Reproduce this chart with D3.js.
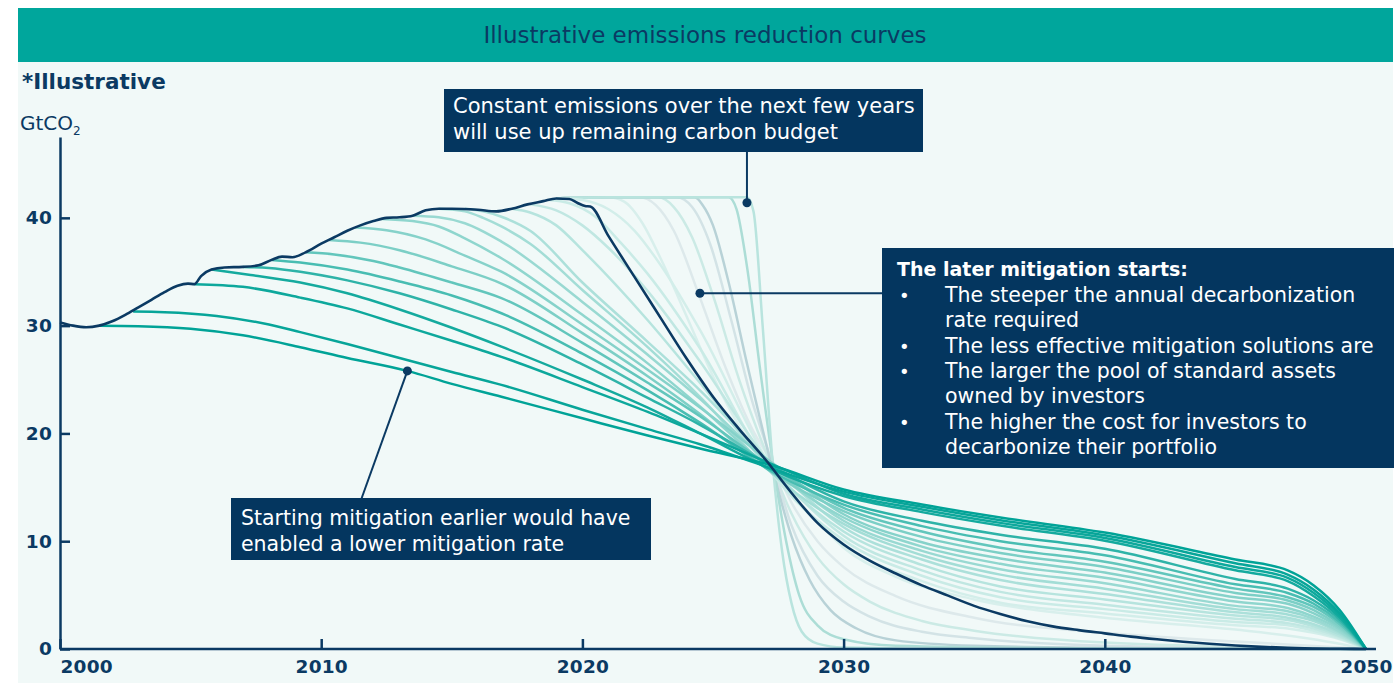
<!DOCTYPE html>
<html>
<head>
<meta charset="utf-8">
<script src="https://cdn.jsdelivr.net/npm/d3@7"></script>
<style>
  body { margin: 0; background: #fff; }
  svg { display: block; font-family: 'DejaVu Sans', sans-serif; }
  .axis path, .axis line { stroke: #0b3a63; stroke-width: 2.5; }
</style>
</head>
<body>
<div id="chart"></div>
<script>
// historical emissions, GtCO2
const histYears = [2000, 2000.5, 2001, 2001.5, 2002, 2002.5, 2003, 2003.5, 2004, 2004.5, 2004.9, 2005.15, 2005.4, 2005.8, 2006.3, 2007, 2007.6, 2008.1, 2008.5, 2008.9, 2009.4, 2010, 2010.5, 2011, 2011.5, 2012, 2012.5, 2013, 2013.5, 2014, 2014.5, 2015, 2016, 2016.7, 2017.3, 2017.9, 2018.5, 2019, 2019.5, 2019.8, 2020.1, 2020.3]
const histValues = [30.3, 30.0, 29.85, 30.0, 30.4, 31.0, 31.7, 32.4, 33.1, 33.7, 33.9, 33.85, 34.6, 35.2, 35.4, 35.45, 35.6, 36.1, 36.4, 36.35, 36.8, 37.6, 38.2, 38.8, 39.3, 39.7, 40.0, 40.05, 40.2, 40.7, 40.85, 40.85, 40.75, 40.6, 40.85, 41.25, 41.55, 41.8, 41.75, 41.4, 41.1, 41.05]

// pathway if mitigation starts now
const nowYears = [2021, 2022, 2023, 2024, 2025, 2026, 2027, 2028, 2029, 2030, 2031, 2032, 2033, 2034, 2035, 2036, 2037, 2038, 2039, 2040, 2041, 2042, 2043, 2044, 2045, 2046, 2047, 2048, 2049, 2050]
const nowValues = [38.3, 34.5, 30.7, 26.9, 23.4, 20.4, 17.6, 14.5, 11.7, 9.7, 8.2, 7.0, 5.9, 4.95, 4.0, 3.25, 2.6, 2.1, 1.75, 1.45, 1.15, 0.9, 0.68, 0.48, 0.32, 0.2, 0.11, 0.05, 0.02, 0]

// pathways if mitigation had started earlier, [year, GtCO2]
const early01 = [[2001.5, 30.0], [2003, 29.95], [2005, 29.7], [2007, 29.1], [2009.2, 28.0], [2011, 27.0], [2013.3, 25.8], [2015, 24.6], [2016.9, 23.4], [2020, 21.4], [2022.5, 19.8], [2024.5, 18.6], [2027.3, 17.0], [2030, 14.8], [2033, 13.4], [2036, 12.2], [2040, 10.8], [2045, 8.3], [2047, 7.3], [2048, 5.9], [2049, 3.6], [2050, 0]]
const early02 = [[2002.8, 31.3], [2004, 31.25], [2006, 30.9], [2008, 30.1], [2009.2, 29.4], [2011, 28.3], [2013, 27.0], [2015, 25.7], [2016.9, 24.5], [2020, 22.2], [2022.5, 20.4], [2024.5, 19.0], [2027.3, 16.7], [2030, 14.6], [2033, 13.2], [2036, 11.95], [2040, 10.55], [2045, 7.95], [2047, 6.9], [2048, 5.5], [2049, 3.3], [2050, 0]]
const early03 = [[2005.15, 33.85], [2007, 33.6], [2009.2, 32.6], [2011, 31.6], [2013, 30.1], [2015, 28.6], [2016.9, 27.1], [2020, 24.3], [2022.5, 22.0], [2024.5, 20.0], [2027.3, 17.1], [2030, 14.4], [2033, 12.95], [2036, 11.7], [2040, 10.3], [2045, 7.6], [2047, 6.6], [2048, 5.2], [2049, 3.1], [2050, 0]]
const early04 = [[2005.8, 35.2], [2007.3, 34.7], [2009.2, 34.0], [2011, 33.0], [2013, 31.5], [2015, 29.8], [2016.9, 28.05], [2020, 25.0], [2022.5, 22.4], [2024.5, 20.0], [2027.3, 16.6], [2030, 14.2], [2033, 12.7], [2036, 11.45], [2040, 10.05], [2045, 7.3], [2047, 6.3], [2048, 4.9], [2049, 2.9], [2050, 0]]
const early05 = [[2007, 35.45], [2008, 35.35], [2009.2, 35.0], [2011, 34.2], [2013, 33.0], [2015, 31.5], [2016.9, 29.9], [2020, 26.4], [2022.5, 23.3], [2024.5, 20.8], [2027.3, 16.9], [2030, 13.7], [2033, 11.9], [2036, 10.6], [2040, 9.3], [2045, 6.5], [2047, 5.6], [2048, 4.5], [2049, 2.7], [2050, 0]]
const early06 = [[2008.1, 36.1], [2009.2, 35.85], [2011, 35.2], [2013, 34.1], [2015, 32.8], [2016.9, 31.15], [2020, 27.4], [2022.5, 24.0], [2024.5, 21.0], [2027.3, 16.4], [2030, 13.4], [2033, 11.4], [2036, 10.0], [2040, 8.7], [2045, 6.0], [2047, 5.2], [2048, 4.2], [2049, 2.5], [2050, 0]]
const early07 = [[2009.4, 36.8], [2010.5, 36.6], [2012, 36.0], [2013, 35.4], [2015, 34.0], [2016.9, 32.55], [2020, 28.4], [2022.5, 24.7], [2024.5, 21.6], [2027.3, 16.8], [2030, 13.1], [2033, 10.9], [2036, 9.4], [2040, 8.1], [2045, 5.6], [2047, 4.8], [2048, 3.9], [2049, 2.3], [2050, 0]]
const early08 = [[2010.3, 37.95], [2011.5, 37.7], [2013, 37.0], [2015, 35.5], [2016.9, 33.9], [2020, 29.3], [2022.5, 25.3], [2024.5, 21.8], [2027.3, 16.3], [2030, 12.8], [2033, 10.4], [2036, 8.9], [2040, 7.6], [2045, 5.2], [2047, 4.5], [2048, 3.6], [2049, 2.1], [2050, 0]]
const early09 = [[2011.3, 39.1], [2012.5, 38.85], [2014, 38.0], [2015.5, 36.5], [2016.9, 35.0], [2020, 30.1], [2022.5, 25.9], [2024.5, 22.4], [2027.3, 17.2], [2030, 12.5], [2033, 9.9], [2036, 8.4], [2040, 7.1], [2045, 4.8], [2047, 4.2], [2048, 3.3], [2049, 1.95], [2050, 0]]
const early10 = [[2012.3, 39.9], [2013.5, 39.7], [2014.5, 39.2], [2015.5, 38.1], [2016.9, 36.25], [2020, 31.0], [2022.5, 26.5], [2024.5, 22.5], [2027.3, 16.5], [2030, 12.2], [2033, 9.5], [2036, 7.9], [2040, 6.6], [2045, 4.4], [2047, 3.8], [2048, 3.0], [2049, 1.8], [2050, 0]]
const early11 = [[2013.5, 40.2], [2014.5, 40.05], [2015.5, 39.5], [2016.9, 37.8], [2020, 32.2], [2022.5, 27.3], [2024.5, 23.2], [2027.3, 16.9], [2030, 11.9], [2033, 9.1], [2036, 7.4], [2040, 6.1], [2045, 4.0], [2047, 3.5], [2048, 2.8], [2049, 1.6], [2050, 0]]
const early12 = [[2014.5, 40.85], [2015.5, 40.6], [2016.2, 40.0], [2016.9, 39.2], [2018, 37.6], [2020, 33.3], [2022.5, 28.0], [2024.5, 23.4], [2027.3, 16.2], [2030, 11.6], [2033, 8.7], [2036, 6.9], [2040, 5.6], [2045, 3.7], [2047, 3.2], [2048, 2.6], [2049, 1.5], [2050, 0]]
const early13 = [[2015.5, 40.85], [2016.2, 40.6], [2016.9, 40.1], [2018, 38.8], [2020, 34.0], [2022.5, 28.5], [2024.5, 24.0], [2027.3, 17.0], [2030, 11.3], [2033, 8.3], [2036, 6.4], [2040, 5.1], [2045, 3.4], [2047, 2.9], [2048, 2.3], [2049, 1.35], [2050, 0]]
const early14 = [[2017.3, 40.85], [2018, 40.5], [2019, 39.3], [2020, 37.0], [2022.5, 30.5], [2024.5, 24.7], [2027.3, 16.4], [2030, 10.9], [2033, 7.8], [2036, 5.8], [2040, 4.6], [2045, 3.1], [2047, 2.7], [2048, 2.1], [2049, 1.2], [2050, 0]]
const early15 = [[2018, 41.25], [2019, 40.7], [2020, 39.3], [2021, 37.2], [2022.5, 33.2], [2024.5, 26.7], [2027.3, 16.8], [2030, 10.5], [2033, 7.3], [2036, 5.3], [2040, 4.1], [2045, 2.8], [2047, 2.4], [2048, 1.9], [2049, 1.1], [2050, 0]]
const early16 = [[2018.7, 41.65], [2019.5, 41.35], [2020.5, 40.1], [2021.5, 37.6], [2022.5, 34.8], [2024.5, 27.9], [2027.3, 16.2], [2030, 10.1], [2033, 6.8], [2036, 4.8], [2040, 3.7], [2045, 2.5], [2047, 2.2], [2048, 1.7], [2049, 1.0], [2050, 0]]
const early17 = [[2019.2, 41.82], [2020, 41.65], [2021, 40.8], [2022, 38.8], [2023, 35.6], [2024.5, 29.6], [2027.3, 16.6], [2030, 9.7], [2033, 6.3], [2036, 4.3], [2040, 3.3], [2045, 2.2], [2047, 1.9], [2048, 1.5], [2049, 0.9], [2050, 0]]
const earlyCurves = [early01, early02, early03, early04, early05, early06, early07, early08, early09, early10, early11, early12, early13, early14, early15, early16, early17]

// pathways with constant emissions before a later start, [year, GtCO2]
const late1 = [[2019, 41.8], [2020, 41.9], [2021, 41.9], [2021.6, 41.5], [2022.3, 39.5], [2023, 36.2], [2024, 30.8], [2025, 25.3], [2026, 20.7], [2027.3, 16.5], [2028, 14.4], [2029, 11.8], [2030, 9.4], [2032, 6.7], [2035, 4.6], [2040, 2.9], [2045, 1.8], [2048, 0.9], [2050, 0]]
const late2 = [[2019, 41.8], [2021, 41.9], [2022.2, 41.9], [2022.8, 41.2], [2023.5, 38.8], [2024.5, 32.6], [2025.5, 26.0], [2026.5, 20.4], [2027.3, 17.1], [2028, 13.6], [2029, 10.0], [2030, 7.6], [2032, 4.9], [2035, 2.9], [2040, 1.5], [2045, 0.7], [2050, 0]]
const late3 = [[2019, 41.8], [2021, 41.9], [2022.9, 41.9], [2023.5, 41.0], [2024.2, 38.2], [2025, 32.8], [2026, 25.0], [2027.3, 16.6], [2028, 12.6], [2029, 8.5], [2030, 6.0], [2031, 4.4], [2033, 2.6], [2035, 1.7], [2040, 0.6], [2050, 0]]
const late4 = [[2019, 41.8], [2021, 41.9], [2023.6, 41.9], [2024.2, 41.0], [2024.9, 37.5], [2025.7, 30.5], [2026.5, 23.0], [2027.3, 17.0], [2028, 11.5], [2029, 6.8], [2030, 4.4], [2031, 3.0], [2033, 1.6], [2035, 1.0], [2040, 0.3], [2050, 0]]
const late5 = [[2019, 41.8], [2021, 41.9], [2024.3, 41.9], [2024.6, 41.2], [2025.0, 39.3], [2025.6, 34.0], [2026.3, 26.5], [2027.3, 16.5], [2028, 10.5], [2028.7, 6.4], [2029.5, 3.6], [2030.5, 1.9], [2032, 0.8], [2035, 0.3], [2040, 0.1], [2050, 0]]
const late6 = [[2019, 41.8], [2021, 41.9], [2025.6, 41.9], [2025.9, 40.8], [2026.3, 35.5], [2026.8, 26.0], [2027.3, 17.2], [2027.8, 10.0], [2028.3, 5.0], [2029, 2.2], [2030, 0.9], [2032, 0.3], [2040, 0.05], [2050, 0]]
const late7 = [[2019, 41.8], [2021, 41.9], [2026.3, 41.9], [2026.55, 40.6], [2026.9, 30.0], [2027.3, 16.8], [2027.65, 9.0], [2028.0, 4.3], [2028.4, 1.6], [2029, 0.5], [2030, 0.15], [2035, 0.03], [2050, 0]]
const lateCurves = [late1, late2, late3, late4, late5, late6, late7]

// annotation anchors [year, GtCO2]
const anchorConstant = [2026.3, 41.4]
const anchorLater = [2024.5, 33.0]
const anchorEarlier = early01[6]

const yTicks = [0, 10, 20, 30, 40]
const xTicks = [2000, 2010, 2020, 2030, 2040, 2050]

const chartTitle = 'Illustrative emissions reduction curves'
const noteConstant = ['Constant emissions over the next few years', 'will use up remaining carbon budget']
const noteLaterTitle = 'The later mitigation starts:'
const noteLater = [
  ['The steeper the annual decarbonization', 'rate required'],
  ['The less effective mitigation solutions are'],
  ['The larger the pool of standard assets', 'owned by investors'],
  ['The higher the cost for investors to', 'decarbonize their portfolio']
]
const noteEarlier = ['Starting mitigation earlier would have', 'enabled a lower mitigation rate']

const navy = '#0b3a63'
const boxFill = '#04365f'
const lateColors = ['#d8efec', '#dde9eb', '#cbeae5', '#d3e3e6', '#b8d2d7', '#acddd6', '#b9e4de']

const width = 1396
const height = 683

const svg = d3.select('#chart').append('svg')
  .attr('width', width)
  .attr('height', height)

// panel and header band
svg.append('rect').attr('x', 18).attr('y', 8).attr('width', 1375).attr('height', 675).attr('fill', '#f1f9f8')
svg.append('rect').attr('x', 18).attr('y', 8).attr('width', 1375).attr('height', 54).attr('fill', '#00a69c')
svg.append('text')
  .attr('x', 705).attr('y', 43)
  .attr('text-anchor', 'middle')
  .attr('fill', navy)
  .style('font-size', '23px')
  .text(chartTitle)

svg.append('text')
  .attr('x', 22).attr('y', 89)
  .attr('fill', navy)
  .style('font-size', '21.5px')
  .style('font-weight', 'bold')
  .text('*Illustrative')

const unit = svg.append('text')
  .attr('x', 20).attr('y', 130)
  .attr('fill', navy)
  .style('font-size', '20px')
unit.append('tspan').text('GtCO')
unit.append('tspan').attr('dy', 5).style('font-size', '12px').text('2')

// scales
const x = d3.scaleLinear().domain([2000, 2050]).range([60, 1366])
const y = d3.scaleLinear().domain([0, 47.5]).range([649, 137])

const line = d3.line()
  .x(d => x(d[0]))
  .y(d => y(d[1]))
  .curve(d3.curveMonotoneX)

// later-start curves (faint), then earlier-start curves from light to dark
svg.append('g').selectAll('path')
  .data(lateCurves)
  .enter()
  .append('path')
  .attr('d', line)
  .attr('fill', 'none')
  .attr('stroke', (d, i) => lateColors[i])
  .attr('stroke-width', 2.5)

const tealScale = d3.scaleLinear()
  .domain([0, 3, 7, 16])
  .range(['#00a397', '#14aa9e', '#7ccfc6', '#d3eeea'])

svg.append('g').selectAll('path')
  .data(earlyCurves.map((c, i) => ({ c, i })).reverse())
  .enter()
  .append('path')
  .attr('d', d => line(d.c))
  .attr('fill', 'none')
  .attr('stroke', d => tealScale(d.i))
  .attr('stroke-width', 2.5)

// historical + start-now pathway
const navyPoints = histYears.map((yr, i) => [yr, histValues[i]])
  .concat(nowYears.map((yr, i) => [yr, nowValues[i]]))
svg.append('path')
  .datum(navyPoints)
  .attr('d', line)
  .attr('fill', 'none')
  .attr('stroke', navy)
  .attr('stroke-width', 2.6)

// axes
svg.append('g')
  .attr('class', 'y axis')
  .attr('transform', 'translate(' + x(2000) + ',0)')
  .call(d3.axisLeft(y).tickValues(yTicks).tickSize(-10).tickSizeOuter(0).tickPadding(8))

const xAxis = svg.append('g')
  .attr('class', 'x axis')
  .attr('transform', 'translate(0,' + y(0) + ')')
  .call(d3.axisBottom(x).tickValues(xTicks).tickFormat(d3.format('d')).tickSize(-10).tickSizeOuter(0).tickPadding(11))
xAxis.select('.domain').attr('d', 'M' + x(2000) + ',0H' + (x(2050) + 10))
xAxis.selectAll('.tick').filter(d => d === 2000).select('text').attr('text-anchor', 'start')
xAxis.selectAll('.tick').filter(d => d === 2050).select('line').remove()

svg.selectAll('.axis text')
  .attr('fill', navy)
  .style('font-family', "'DejaVu Sans', sans-serif")
  .style('font-weight', 'bold')
  .style('font-size', '18.5px')
  .style('letter-spacing', '0.2px')

// annotation boxes
function addBox (bx, by, bw, bh) {
  svg.append('rect').attr('x', bx).attr('y', by).attr('width', bw).attr('height', bh).attr('fill', boxFill)
}
function addLines (lines, tx, ty, step, size) {
  lines.forEach((t, i) => {
    svg.append('text')
      .attr('x', tx).attr('y', ty + i * step)
      .attr('fill', '#fff')
      .style('font-size', size + 'px')
      .text(t)
  })
}
function connector (x1, y1, x2, y2) {
  svg.append('line')
    .attr('x1', x1).attr('y1', y1).attr('x2', x2).attr('y2', y2)
    .attr('stroke', navy).attr('stroke-width', 2)
  svg.append('circle').attr('cx', x1).attr('cy', y1).attr('r', 4.5).attr('fill', navy)
}

// constant emissions note
connector(x(anchorConstant[0]), y(anchorConstant[1]), x(anchorConstant[0]), 150)
addBox(444, 89, 479, 63)
addLines(noteConstant, 453, 113, 26, 21)

// later mitigation note
connector(x(anchorLater[0]), y(anchorLater[1]), 884, y(anchorLater[1]))
addBox(882, 248, 512, 220)
svg.append('text')
  .attr('x', 897).attr('y', 276)
  .attr('fill', '#fff')
  .style('font-size', '19px')
  .style('font-weight', 'bold')
  .text(noteLaterTitle)
let row = 0
noteLater.forEach(item => {
  svg.append('text')
    .attr('x', 899).attr('y', 302 + row * 25.3)
    .attr('fill', '#fff')
    .style('font-size', '18px')
    .text('•')
  item.forEach(t => {
    svg.append('text')
      .attr('x', 945).attr('y', 302 + row * 25.3)
      .attr('fill', '#fff')
      .style('font-size', '20.5px')
      .text(t)
    row++
  })
})

// earlier mitigation note
connector(x(anchorEarlier[0]), y(anchorEarlier[1]), 361, 500)
addBox(231, 498, 420, 62)
addLines(noteEarlier, 241, 525, 26, 20.5)
</script>
</body>
</html>
